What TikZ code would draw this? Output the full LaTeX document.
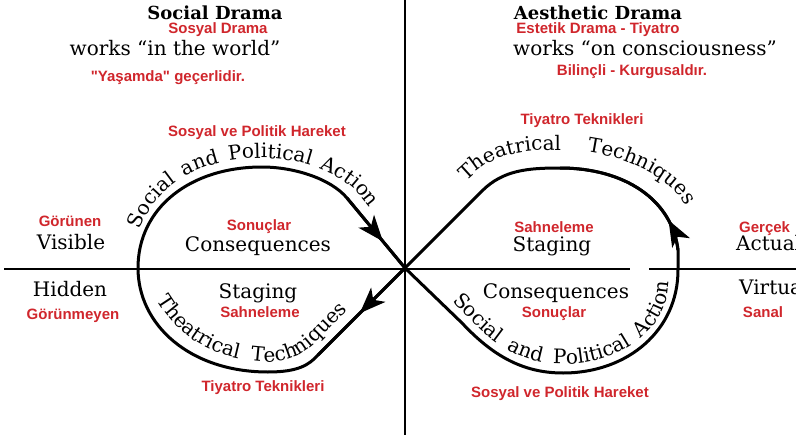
\documentclass[tikz,border=0pt]{standalone}
\usepackage{fontspec}
\setmainfont{DejaVu Serif}
\newfontfamily\redsans{Liberation Sans}
\usetikzlibrary{decorations.text,decorations.markings}
\usetikzlibrary{arrows.meta}
\definecolor{trred}{RGB}{208,38,44}
\newcommand{\loopfont}{\fontsize{20}{24}\selectfont}
\tikzset{
        treelabel/.style={align=center,inner sep=0pt},
        % Black English labels
        node_label/.style={treelabel, font=\fontsize{20}{24}\selectfont, text height=14pt, text depth=4pt},
        % Bold headings
        node_title/.style={treelabel, font=\fontsize{18}{22}\selectfont\bfseries},
        % Red Turkish labels
        node_red/.style={treelabel, text=trred, font=\redsans\fontsize{15}{18}\selectfont\bfseries, text height=11pt, text depth=3pt},
        % Figure eight and axes
        loop_line/.style={line width=3pt, line join=round},
        axis_line/.style={line width=1.3pt},
        % Words written along the loops
        loop_text/.style={decorate, decoration={text along path, text={|\loopfont|#1}, text align={fit to path stretching spaces}}},
        % Arrow heads on the loops
        loop_arrow/.style={postaction={decorate}, decoration={markings, mark=at position #1 with {\arrow{Stealth[length=26pt,width=20pt,inset=7pt]}}}}
}
\begin{document}
\begin{tikzpicture}[x=1pt, y=-1pt]
            \clip (0,0) rectangle (796,439);
            % axes
            \coordinate (mid) at (405,268);
            \draw[axis_line] (4,269) -- (630,269);
            \draw[axis_line] (649,269) -- (796,269);
            \draw[axis_line] (405,0) -- (405,435);
            % right loop
            \draw[loop_line] (mid) -- (462,323) .. controls (492,355) and (522,373) .. (563,373)
                .. controls (628,373) and (678,330) .. (678,270) -- (678,250)
                .. controls (672,200) and (625,168) .. (560,168)
                .. controls (528,168) and (503,170) .. (482,191) -- (mid);
            % left loop
            \draw[loop_line] (mid) -- (318,355) .. controls (309,365) and (298,372) .. (268,372)
                .. controls (190,372) and (138,325) .. (138,268)
                .. controls (138,208) and (190,167) .. (262,167)
                .. controls (293,167) and (330,178) .. (347,198) -- (mid);
            \draw[loop_line, loop_arrow=0.2] (678,250) .. controls (672,200) and (625,168) .. (560,168);
            \draw[loop_line, loop_arrow=0.62] (347,198) -- (mid);
            \draw[loop_line, loop_arrow=0.52] (mid) -- (318,355);
            % words along the loops
            \path[loop_text={Social and Political Action}] (140,230) .. controls (155,185) and (200,158) .. (262,158) .. controls (297,158) and (338,171) .. (358,193) -- (370,208);
            \path[loop_text={Theatrical Techniques}] (157,300) .. controls (175,330) and (205,358) .. (262,362) .. controls (290,362) and (300,356) .. (312,346) -- (348,310);
            \path[loop_text={Theatrical Techniques}] (466,181) -- (477,171) .. controls (500,152) and (528,150) .. (560,150) .. controls (620,150) and (672,178) .. (686,206);
            \path[loop_text={Social and Political Action}] (452,301) -- (468,317) .. controls (497,348) and (524,364) .. (563,364) .. controls (620,364) and (668,330) .. (669,282);
            % left half
            \node[node_title] (socialdrama) at (215,13) {Social Drama};
            \node[node_red] (sosyaldrama) at (218,29) {Sosyal Drama};
            \node[node_label] (inworld) at (175,50) {works ``in the world''};
            \node[node_red] (yasamda) at (168,77) {"Yaşamda" geçerlidir.};
            \node[node_red] (hareketA) at (257,132) {Sosyal ve Politik Hareket};
            \node[node_red] (gorunen) at (70,222) {Görünen};
            \node[node_label] (visible) at (71,244) {Visible};
            \node[node_red] (sonuclarA) at (259,226) {Sonuçlar};
            \node[node_label] (consA) at (258,246) {Consequences};
            \node[node_label] (hidden) at (70,291) {Hidden};
            \node[node_red] (gorunmeyen) at (73,315) {Görünmeyen};
            \node[node_label] (stagingA) at (258,293) {Staging};
            \node[node_red] (sahnelemeA) at (260,313) {Sahneleme};
            \node[node_red] (tiyatroA) at (263,387) {Tiyatro Teknikleri};
            % right half
            \node[node_title] (aestheticdrama) at (598,13) {Aesthetic Drama};
            \node[node_red] (estetik) at (598,29) {Estetik Drama - Tiyatro};
            \node[node_label] (onconsc) at (645,50) {works ``on consciousness''};
            \node[node_red] (bilincli) at (632,71) {Bilinçli - Kurgusaldır.};
            \node[node_red] (tiyatroB) at (582,120) {Tiyatro Teknikleri};
            \node[node_red] (sahnelemeB) at (554,228) {Sahneleme};
            \node[node_label] (stagingB) at (552,246) {Staging};
            \node[node_label] (consB) at (556,293) {Consequences};
            \node[node_red] (sonuclarB) at (554,313) {Sonuçlar};
            \node[node_red, anchor=west] (gercek) at (739,228) {Gerçek};
            \node[node_label, anchor=west] (actual) at (736,245) {Actual};
            \node[node_label, anchor=west] (virtual) at (739,289) {Virtual};
            \node[node_red] (sanal) at (763,313) {Sanal};
            \node[node_red] (hareketB) at (560,393) {Sosyal ve Politik Hareket};
\end{tikzpicture}
\end{document}
